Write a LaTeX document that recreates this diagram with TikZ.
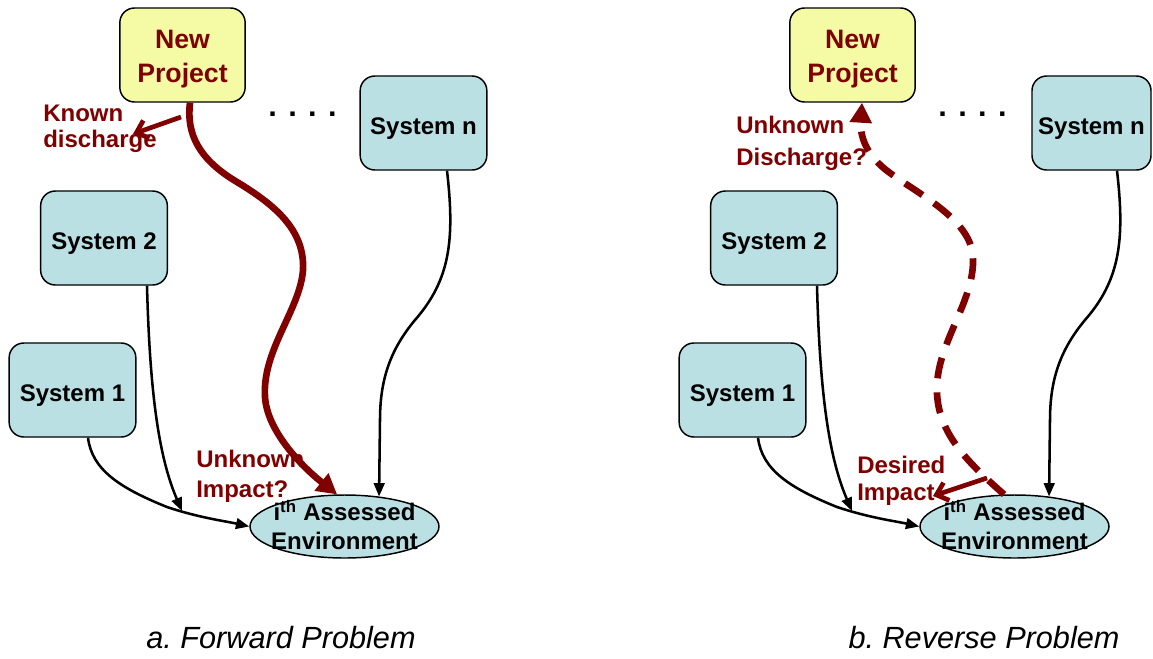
\documentclass[tikz,border=0pt]{standalone}
\usepackage{fontspec}
\setmainfont{Liberation Sans}
\usetikzlibrary{arrows.meta,calc,shapes.geometric}
\definecolor{boxblue}{RGB}{186,224,228}
\definecolor{projyellow}{RGB}{245,251,165}
\definecolor{impred}{RGB}{128,0,0}

\begin{document}
\begin{tikzpicture}[x=0.75pt,y=-0.75pt,
  sysbox/.style={draw=black, line width=1.1pt, fill=boxblue, rounded corners=11pt,
    minimum width=95pt, minimum height=70.5pt, inner sep=0pt,
    text height=16.5pt, text depth=0pt,
    font=\fontsize{18}{21}\bfseries\selectfont},
  projbox/.style={draw=black, line width=1.1pt, fill=projyellow, rounded corners=11pt,
    minimum width=94pt, minimum height=70.5pt, inner sep=0pt},
  projtext/.style={text=impred, align=center, inner sep=0pt,
    font=\fontsize{20}{25.5}\bfseries\selectfont},
  envshape/.style={ellipse, draw=black, line width=1.1pt, fill=boxblue,
    minimum width=141.75pt, minimum height=47.25pt, inner sep=0pt},
  envtext/.style={inner sep=0pt, align=center, font=\fontsize{18}{21.75}\bfseries\selectfont},
  redlabel/.style={anchor=north west, inner sep=0pt, align=left, text=impred},
  dotsnode/.style={font=\fontsize{23}{23}\bfseries\selectfont, inner sep=0pt, anchor=base},
  caption/.style={font=\fontsize{23}{27}\itshape\selectfont\frenchspacing, inner sep=0pt, anchor=base},
  feed/.style={line width=1.9pt, -{Triangle[length=10pt,width=8pt]}},
  impact/.style={draw=impred, line width=5pt, -{Triangle[length=15pt,width=16pt]}},
  reverseimpact/.style={impact, dash pattern=on 15.75pt off 10.5pt},
  discharge/.style={draw=impred, line width=3.5pt, -{Straight Barb[length=8pt,width=14pt]}}
]
\useasboundingbox (0,0) rectangle (1153,658);

% ---------- a. Forward problem ----------
\node[projbox] (npA) at (182.5,55) {};
\node[projtext] (npAtext) at (182.5,59) {New\\Project};
\node[sysbox] (snA) at (423.5,123) {System n};
\node[sysbox] (s2A) at (104,238) {System 2};
\node[sysbox] (s1A) at (72.5,390) {System 1};
\node[envshape] (envA) at (344.5,526.5) {};
\node[envtext] (envAtext) at (344.5,525) {i\textsuperscript{th} Assessed\\Environment};
\node[dotsnode] (dotsA) at (302.5,116) {. . . .};

\node[redlabel, font=\fontsize{18}{19.5}\bfseries\selectfont] (kdA) at (43,105) {Known\\discharge};
\node[redlabel, font=\fontsize{18}{22.5}\bfseries\selectfont] (uiA) at (196,450) {Unknown\\Impact?};

\coordinate (jA) at (182,511);
\draw[feed] ($(s1A.south)+(15.5,0)$) .. controls (92,470) and (120,488) .. (167,507)
  .. controls (200,518) and (225,521) .. (envA.west);
\draw[feed] ($(s2A.south)+(43,0)$) .. controls (150,400) and (160,460) .. (jA);
\draw[feed] ($(snA.south)+(23.5,0)$) .. controls (455,240) and (450,280) .. (415,320)
  .. controls (390,350) and (380,380) .. (380,420) -- (envA.41);

\draw[impact] ($(npA.south)+(7.5,0)$) .. controls (186,135) and (200,160) .. (237,182)
  .. controls (275,205) and (305,230) .. (303,270)
  .. controls (300,310) and (262,350) .. (265,397)
  .. controls (267,430) and (300,465) .. (envA.103);

\coordinate (kdsA) at (181,117);
\coordinate (kdtA) at (133,134);
\draw[discharge] (kdsA) -- (kdtA);

\node[caption] (capA) at (281,648) {a. Forward Problem};

% ---------- b. Reverse problem ----------
\node[projbox] (npB) at (852.5,55) {};
\node[projtext] (npBtext) at (852.5,59) {New\\Project};
\node[sysbox, minimum width=89.25pt] (snB) at (1091.5,123) {System n};
\node[sysbox] (s2B) at (774,238) {System 2};
\node[sysbox] (s1B) at (742.5,390) {System 1};
\node[envshape] (envB) at (1014.5,526.5) {};
\node[envtext] (envBtext) at (1014.5,525) {i\textsuperscript{th} Assessed\\Environment};
\node[dotsnode] (dotsB) at (972.5,116) {. . . .};

\node[redlabel, font=\fontsize{18}{24}\bfseries\selectfont] (udB) at (736,116) {Unknown\\Discharge?};
\node[redlabel, font=\fontsize{18}{20.25}\bfseries\selectfont] (diB) at (857,456) {Desired\\Impact};

\coordinate (jB) at (852,511);
\draw[feed] ($(s1B.south)+(15.5,0)$) .. controls (762,470) and (790,488) .. (837,507)
  .. controls (870,518) and (895,521) .. (envB.west);
\draw[feed] ($(s2B.south)+(43,0)$) .. controls (820,400) and (830,460) .. (jB);
\draw[feed] ($(snB.south)+(25.5,0)$) .. controls (1125,240) and (1120,280) .. (1085,320)
  .. controls (1060,350) and (1050,380) .. (1050,420) -- (envB.41);

\draw[reverseimpact] (envB.108) .. controls (965,460) and (935,430) .. (937,385)
  .. controls (939,340) and (975,300) .. (973,257)
  .. controls (971,220) and (920,195) .. (890,173)
  .. controls (865,155) and (860,135) .. ($(npB.south)+(9.5,0)$);

\coordinate (disB) at (987,478);
\coordinate (ditB) at (933,496);
\draw[discharge] (disB) -- (ditB);

\node[caption] (capB) at (984,648) {b. Reverse Problem};
\end{tikzpicture}
\end{document}
